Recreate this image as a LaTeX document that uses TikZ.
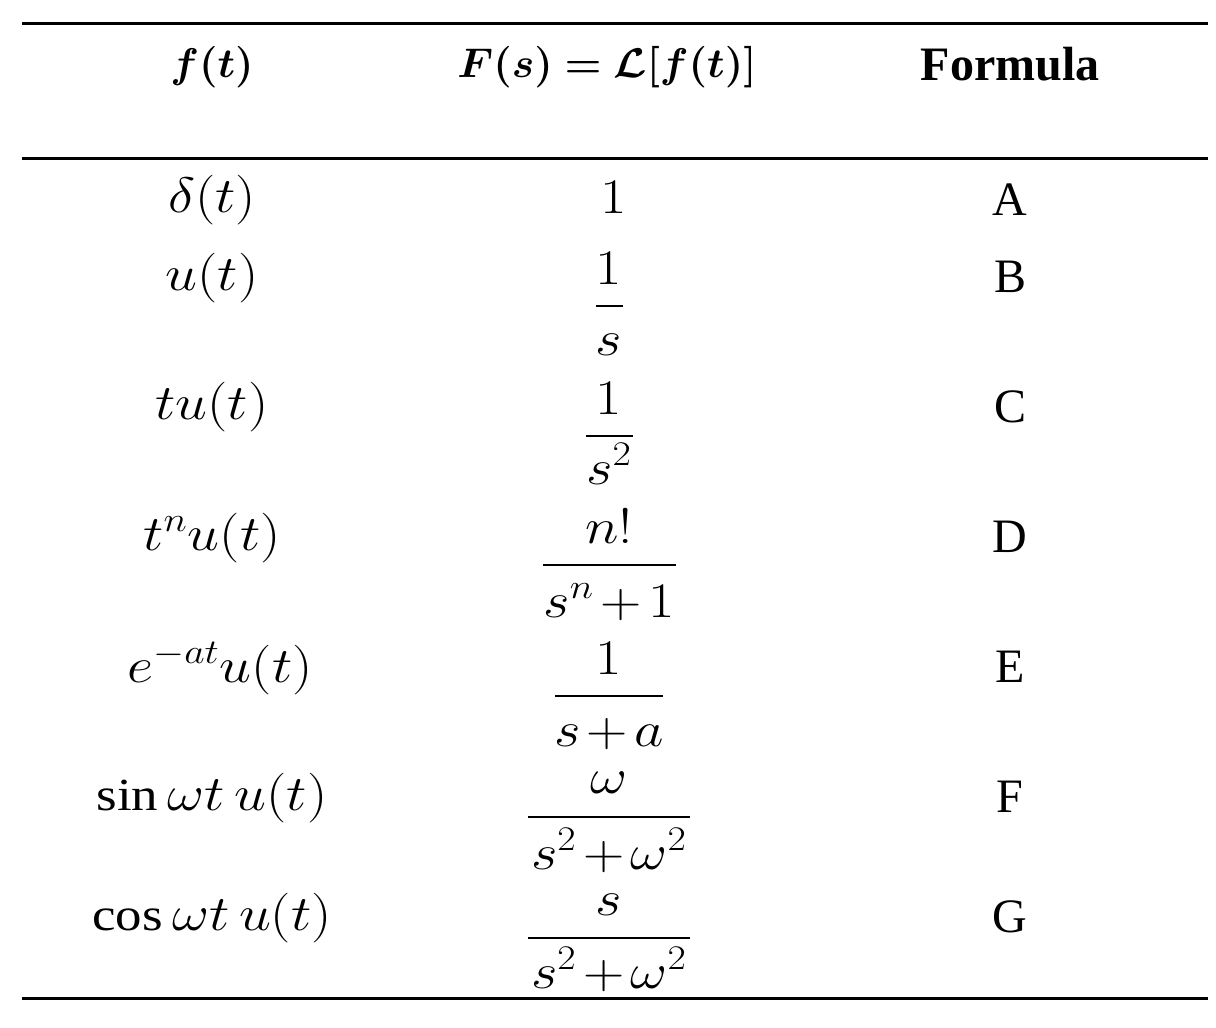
\documentclass[tikz,border=0pt]{standalone}
\usepackage{amsmath}
\usepackage{bm}
\usepackage{fontspec}
\setmainfont{Liberation Serif}
\newcommand\tightbinspace{\medmuskip=2mu\relax}
\begin{document}
\begin{tikzpicture}[x=0.5pt,y=-0.5pt,
  mtxt/.style={inner sep=0pt,anchor=base,xscale=1.15,transform shape,font={\fontsize{23}{27}\selectfont\tightbinspace}},
  mhead/.style={inner sep=0pt,anchor=base,xscale=1.02,transform shape,font=\fontsize{21}{25}\selectfont},
  ltxt/.style={inner sep=0pt,anchor=base,font=\fontsize{24}{29}\selectfont},
  htxt/.style={inner sep=0pt,anchor=base,font=\fontsize{24}{29}\selectfont\bfseries},
  tablerule/.style={line width=1.5pt,black},
  fracbar/.style={line width=1.3pt,black}]
\useasboundingbox (0,0) rectangle (1216,1028);
% rules
\draw[tablerule] (22,23) -- (1208,23);
\draw[tablerule] (22,158) -- (1208,158);
\draw[tablerule] (22,998) -- (1208,998);
% header
\node[mhead] (h1) at (212,77) {$\bm{f(t)}$};
\node[mhead] (h2) at (607,77) {$\bm{F(s)=\mathcal{L}[f(t)]}$};
\node[htxt] (h3) at (1010,80) {Formula};
% column 1
\node[mtxt] (a1) at (212,212) {$\delta(t)$};
\node[mtxt] (b1) at (212,290) {$u(t)$};
\node[mtxt] (c1) at (212,419) {$tu(t)$};
\node[mtxt] (d1) at (212,550) {$t^{n}u(t)$};
\node[mtxt] (e1) at (220,682) {$e^{-at}u(t)$};
\node[mtxt] (f1) at (212,810) {$\sin\omega t\,u(t)$};
\node[mtxt] (g1) at (212,930) {$\cos\omega t\,u(t)$};
% column 2
\node[mtxt] (a2) at (614,213) {$1$};
\node[mtxt] (b2n) at (609,284) {$1$};
\draw[fracbar] (596,306) -- (623,306);
\node[mtxt] (b2d) at (609,355) {$s$};
\node[mtxt] (c2n) at (609,414) {$1$};
\draw[fracbar] (586,436) -- (633,436);
\node[mtxt] (c2d) at (609,484) {$s^{2}$};
\node[mtxt] (d2n) at (609,543) {$n!$};
\draw[fracbar] (543,565) -- (676,565);
\node[mtxt] (d2d) at (609,617) {$s^{n}+1$};
\node[mtxt] (e2n) at (609,674) {$1$};
\draw[fracbar] (555,696) -- (663,696);
\node[mtxt] (e2d) at (609,746) {$s+a$};
\node[mtxt] (f2n) at (609,793) {$\omega$};
\draw[fracbar] (528,817) -- (690,817);
\node[mtxt] (f2d) at (609,869) {$s^{2}+\omega^{2}$};
\node[mtxt] (g2n) at (609,915) {$s$};
\draw[fracbar] (528,938) -- (690,938);
\node[mtxt] (g2d) at (609,988) {$s^{2}+\omega^{2}$};
% column 3
\node[ltxt] (a3) at (1010,215) {A};
\node[ltxt] (b3) at (1010,292) {B};
\node[ltxt] (c3) at (1010,422) {C};
\node[ltxt] (d3) at (1010,552) {D};
\node[ltxt] (e3) at (1010,682) {E};
\node[ltxt] (f3) at (1010,812) {F};
\node[ltxt] (g3) at (1010,932) {G};
\end{tikzpicture}
\end{document}
